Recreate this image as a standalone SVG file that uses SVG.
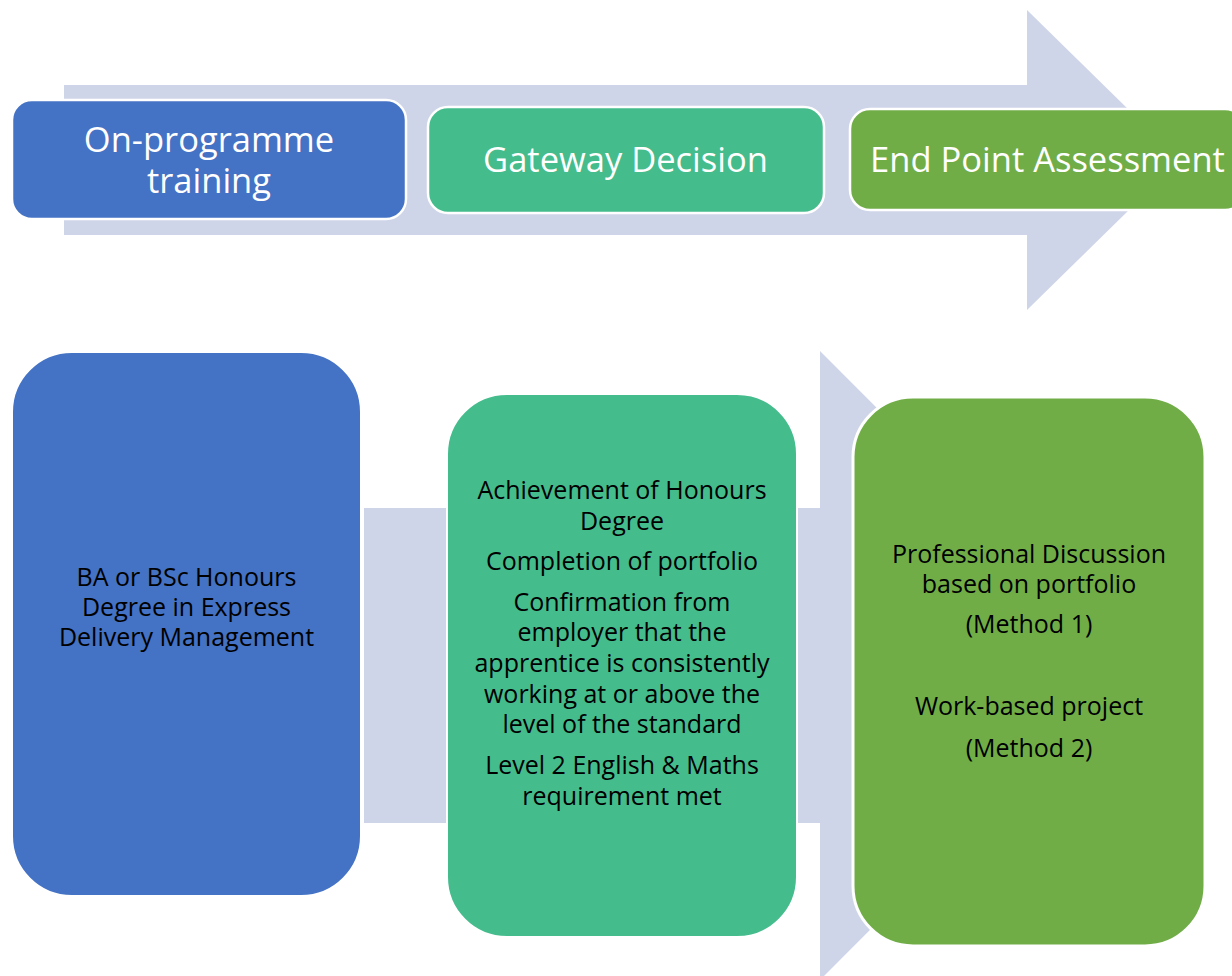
<svg xmlns="http://www.w3.org/2000/svg" width="1232" height="976" viewBox="0 0 1232 976">
  <style>
    .arrow { fill: #CFD5E8; }
    .top { stroke: #FFFFFF; stroke-width: 2.5; }
    .bot { stroke: #FFFFFF; stroke-width: 2; }
    .blue { fill: #4472C4; }
    .teal { fill: #44BC8C; }
    .green { fill: #70AD47; }
    .tt { font-family: "Open Sans", Lato, sans-serif; font-size: 34.5px; fill: #FFFFFF; text-anchor: middle; }
    .bt { font-family: "Open Sans", Lato, sans-serif; font-size: 25px; fill: #000000; text-anchor: middle; }
  </style>
  <rect x="0" y="0" width="1232" height="976" fill="#FFFFFF"/>
  <g id="connectors">
    <polygon class="arrow" points="64,85 1027,85 1027,10 1180,160 1027,310 1027,235 64,235"/>
    <polygon class="arrow" points="364,508 820,508 820,351 1134,665.5 820,980 820,823 364,823"/>
  </g>
  <g id="node-on-programme">
    <rect class="blue top" x="12" y="100" width="394" height="119" rx="20" ry="20"/>
    <text class="tt" x="209" y="152">On-programme</text>
    <text class="tt" x="209" y="193">training</text>
  </g>
  <g id="node-gateway">
    <rect class="teal top" x="428" y="107" width="396" height="106" rx="20" ry="20"/>
    <text class="tt" x="625.5" y="172">Gateway Decision</text>
  </g>
  <g id="node-epa">
    <rect class="green top" x="850" y="109" width="395" height="101" rx="20" ry="20"/>
    <text class="tt" x="1047.5" y="172">End Point Assessment</text>
  </g>
  <g id="node-degree">
    <rect class="blue bot" x="12" y="352" width="349" height="544" rx="60" ry="60"/>
    <text class="bt" x="186.5" y="586">BA or BSc Honours</text>
    <text class="bt" x="186.5" y="616">Degree in Express</text>
    <text class="bt" x="186.5" y="646">Delivery Management</text>
  </g>
  <g id="node-gateway-requirements">
    <rect class="teal bot" x="447" y="394" width="350" height="543" rx="60" ry="60"/>
    <text class="bt" x="622" y="499">Achievement of Honours</text>
    <text class="bt" x="622" y="530">Degree</text>
    <text class="bt" x="622" y="570">Completion of portfolio</text>
    <text class="bt" x="622" y="611">Confirmation from</text>
    <text class="bt" x="622" y="641">employer that the</text>
    <text class="bt" x="622" y="672">apprentice is consistently</text>
    <text class="bt" x="622" y="703">working at or above the</text>
    <text class="bt" x="622" y="733">level of the standard</text>
    <text class="bt" x="622" y="774">Level 2 English &amp; Maths</text>
    <text class="bt" x="622" y="805">requirement met</text>
  </g>
  <g id="node-methods">
    <rect class="green" x="853" y="397" width="352" height="549" rx="60" ry="60" stroke="#FFFFFF" stroke-width="3"/>
    <text class="bt" x="1029" y="563">Professional Discussion</text>
    <text class="bt" x="1029" y="593">based on portfolio</text>
    <text class="bt" x="1029" y="633">(Method 1)</text>
    <text class="bt" x="1029" y="715">Work-based project</text>
    <text class="bt" x="1029" y="757">(Method 2)</text>
  </g>
</svg>
